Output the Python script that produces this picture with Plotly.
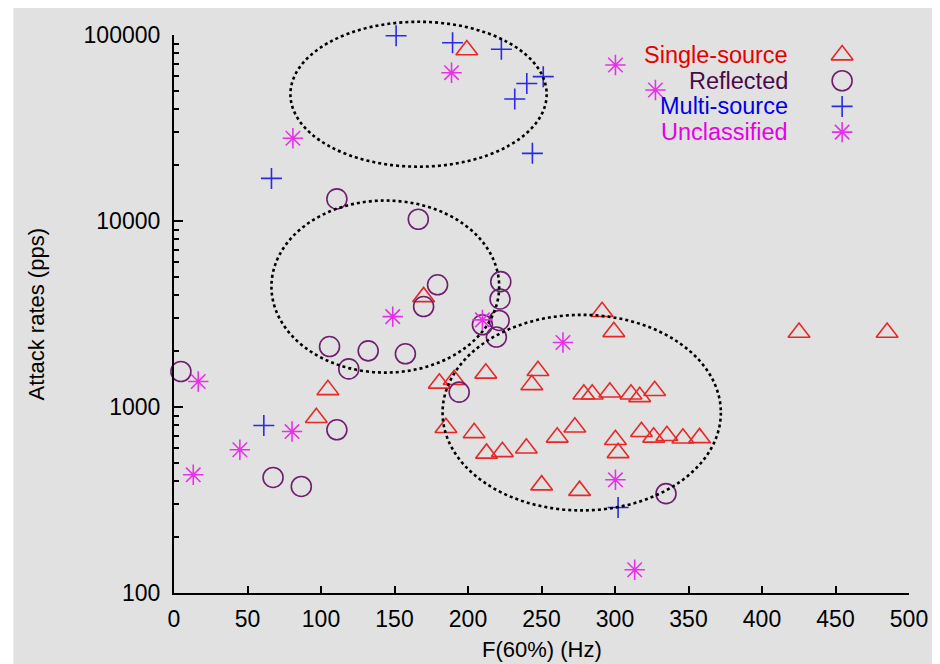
import plotly.graph_objects as go

# ---------------- data ----------------
single_x = [291.2, 299.2, 180.5, 190.6, 212.1, 247.6, 243.4, 278.8, 284.5, 296.5, 310.9, 316.8, 327.0,
            185.0, 204.2, 212.6, 223.4, 239.7, 260.7, 272.7, 300.3, 302.1, 318.0, 326.3, 335.3, 346.2,
            357.5, 250.1, 275.9, 104.7, 96.8, 199.2, 169.8, 425.2, 485.1]
single_y = [3250, 2535, 1340, 1400, 1517, 1565, 1315, 1170, 1170, 1200, 1170, 1134, 1222,
            773, 726, 563, 574, 600, 687, 778, 667, 567, 736, 687, 700, 679,
            682, 380, 355, 1236, 875, 83000, 3908, 2513, 2513]

reflected_x = [110.8, 166.2, 179.3, 169.8, 105.8, 118.9, 132.1, 157.4, 4.7, 194.0,
               222.3, 221.8, 221.2, 219.3, 209.8, 110.8, 67.4, 86.6, 334.7]
reflected_y = [13150, 10220, 4540, 3467, 2113, 1603, 2004, 1932, 1552, 1202,
               4720, 3810, 2920, 2377, 2767, 754, 418, 374, 342]

multi_x = [151.1, 189.5, 222.7, 240.0, 251.2, 231.8, 243.8, 66.3, 61.1, 302.1]
multi_y = [99100, 90900, 83800, 54900, 59700, 45300, 23100, 16940, 795, 288]

unclass_x = [188.8, 80.9, 300.3, 327.5, 148.8, 209.8, 16.5, 264.6, 300.3, 13.1, 44.8, 80.3, 313.4]
unclass_y = [62700, 27860, 69000, 50600, 3063, 2942, 1371, 2222, 406, 432, 589, 738, 133.4]

series_names = ["Single-source", "Reflected", "Multi-source", "Unclassified"]

x_ticks = [0, 50, 100, 150, 200, 250, 300, 350, 400, 450, 500]
y_ticks = [100, 1000, 10000, 100000]
y_ticktext = ["100", "1000", "10000", "100000"]

# cluster ellipses: (x0, x1, log10 y0, log10 y1)
ellipses = [
    (79.2, 253.5, 4.292, 5.071),
    (66.3, 221.2, 3.185, 4.110),
    (182.7, 372.0, 2.444, 3.4955),
]

X_RANGE = (0, 500)
LOGY_RANGE = (2, 5)

# ---------------- styles ----------------
FONT = "Liberation Sans, Arial, Helvetica, sans-serif"
text_colors = ["#e60000", "#4a0a4a", "#0000e6", "#e600e6"]
marker_colors = ["#e62828", "#6e1f6e", "#2a2ae6", "#e632e6"]
symbols = ["triangle-up-open", "circle-open", "cross-thin-open", "asterisk-open"]
sizes = [19, 20, 15, 17]

fig = go.Figure()

series = [(single_x, single_y), (reflected_x, reflected_y), (multi_x, multi_y), (unclass_x, unclass_y)]
for (xs, ys), name, col, sym, sz in zip(series, series_names, marker_colors, symbols, sizes):
    fig.add_trace(go.Scatter(
        x=xs, y=ys, mode="markers", name=name, showlegend=False, cliponaxis=False,
        marker=dict(symbol=sym, size=sz, color=col, line=dict(color=col, width=1.6)),
    ))

# custom legend (text on left, symbol on right), on an overlay axis [0,1]
leg_y = [0.964, 0.918, 0.872, 0.826]
leg_sym_x = 0.909
leg_text_x = 0.8385
for i, name in enumerate(series_names):
    fig.add_trace(go.Scatter(
        x=[leg_sym_x], y=[leg_y[i]], xaxis="x2", yaxis="y2", mode="markers",
        showlegend=False, cliponaxis=False, hoverinfo="skip",
        marker=dict(symbol=symbols[i], size=sizes[i], color=marker_colors[i],
                    line=dict(color=marker_colors[i], width=1.6)),
    ))
    fig.add_annotation(x=leg_text_x, y=leg_y[i], xref="paper", yref="paper",
                       text=name, showarrow=False, xanchor="right", yanchor="middle",
                       font=dict(family=FONT, size=23.5, color=text_colors[i]))

def px_x(v):
    return (v - X_RANGE[0]) / (X_RANGE[1] - X_RANGE[0])

def px_ly(v):
    return (v - LOGY_RANGE[0]) / (LOGY_RANGE[1] - LOGY_RANGE[0])

shapes = [
    dict(type="rect", xref="paper", yref="paper", x0=-0.2185, x1=1.0353, y0=-0.13, y1=1.06,
         fillcolor="#e1e1e1", line=dict(width=0), layer="below"),
]
for (x0, x1, y0, y1) in ellipses:
    shapes.append(dict(type="circle", xref="paper", yref="paper",
                       x0=px_x(x0), x1=px_x(x1), y0=px_ly(y0), y1=px_ly(y1),
                       line=dict(color="black", width=2.6, dash="dot"), layer="above"))

minor_vals = [m * 10 ** e for e in range(2, 5) for m in range(2, 10)]

# page body has an 8px margin: the figure is shrunk so the plot area lands at the same place
fig.update_layout(
    width=932, height=656,
    margin=dict(l=166, r=29, t=27, b=71),
    paper_bgcolor="white", plot_bgcolor="rgba(0,0,0,0)",
    font=dict(family=FONT, size=22, color="black"),
    shapes=shapes,
    showlegend=False,
    xaxis=dict(range=list(X_RANGE), tickvals=x_ticks, ticks="inside", ticklen=7, tickwidth=1.5,
               tickcolor="black", showline=True, linecolor="black", linewidth=2.2,
               showgrid=False, zeroline=False, ticklabelstandoff=4,
               tickfont=dict(family=FONT, size=23, color="black")),
    yaxis=dict(type="log", range=list(LOGY_RANGE), tickvals=y_ticks, ticktext=y_ticktext,
               ticks="inside", ticklen=9, tickwidth=1.5, tickcolor="black",
               showline=True, linecolor="black", linewidth=2.2,
               showgrid=False, zeroline=False, ticklabelstandoff=7,
               tickfont=dict(family=FONT, size=23, color="black"),
               minor=dict(tickmode="array", tickvals=minor_vals, ticks="inside", ticklen=5,
                          tickwidth=1.5, tickcolor="black", showgrid=False)),
    xaxis2=dict(range=[0, 1], overlaying="x", visible=False, fixedrange=True),
    yaxis2=dict(range=[0, 1], overlaying="y", visible=False, fixedrange=True),
    annotations=list(fig.layout.annotations) + [
        dict(x=0.5, y=-0.1016, xref="paper", yref="paper", text="F(60%) (Hz)", showarrow=False,
             xanchor="center", yanchor="middle", font=dict(family=FONT, size=22, color="black")),
        dict(x=-0.1872, y=0.5, xref="paper", yref="paper", text="Attack rates (pps)", showarrow=False,
             textangle=-90, xanchor="center", yanchor="middle",
             font=dict(family=FONT, size=22, color="black")),
    ],
)

fig.write_html("out.html")
